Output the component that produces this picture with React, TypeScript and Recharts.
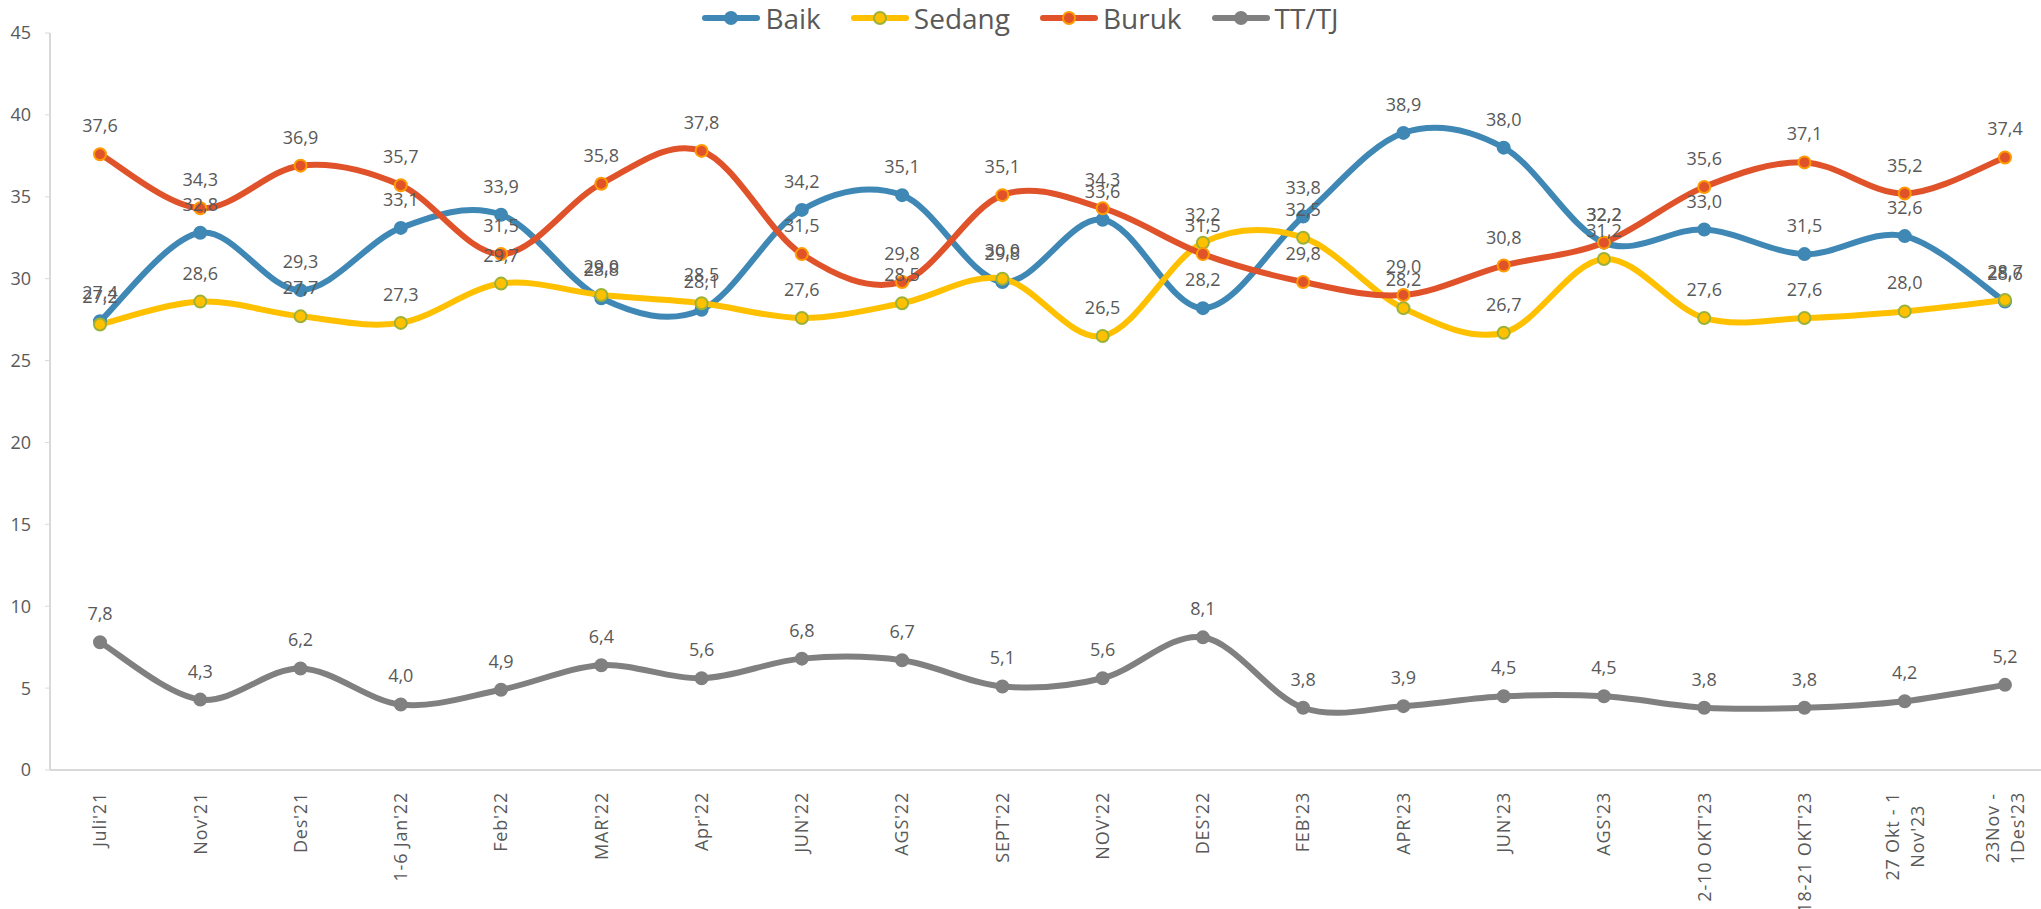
import React from 'react';
import { LineChart, Line, XAxis, YAxis, Legend, LabelList } from 'recharts';

const categories = [
  "Juli'21", "Nov'21", "Des'21", "1-6 Jan'22", "Feb'22", "MAR'22", "Apr'22", "JUN'22", "AGS'22", "SEPT'22",
  "NOV'22", "DES'22", "FEB'23", "APR'23", "JUN'23", "AGS'23", "2-10 OKT'23", "18-21 OKT'23",
  "27 Okt - 1\nNov'23", "23Nov -\n1Des'23",
];
const baik = [27.4, 32.8, 29.3, 33.1, 33.9, 28.8, 28.1, 34.2, 35.1, 29.8, 33.6, 28.2, 33.8, 38.9, 38.0, 32.2, 33.0, 31.5, 32.6, 28.6];
const sedang = [27.2, 28.6, 27.7, 27.3, 29.7, 29.0, 28.5, 27.6, 28.5, 30.0, 26.5, 32.2, 32.5, 28.2, 26.7, 31.2, 27.6, 27.6, 28.0, 28.7];
const buruk = [37.6, 34.3, 36.9, 35.7, 31.5, 35.8, 37.8, 31.5, 29.8, 35.1, 34.3, 31.5, 29.8, 29.0, 30.8, 32.2, 35.6, 37.1, 35.2, 37.4];
const ttTj = [7.8, 4.3, 6.2, 4.0, 4.9, 6.4, 5.6, 6.8, 6.7, 5.1, 5.6, 8.1, 3.8, 3.9, 4.5, 4.5, 3.8, 3.8, 4.2, 5.2];
const yTicks = [0, 5, 10, 15, 20, 25, 30, 35, 40, 45];

const data = categories.map((name, i) => ({
  name,
  baik: baik[i],
  sedang: sedang[i],
  buruk: buruk[i],
  tt: ttTj[i],
}));

const FONT = '"Open Sans", sans-serif';
const TEXT = '#595959';
const SPACING = 0.8;

const series = [
  { key: 'baik', name: 'Baik', color: '#3F88B5', ring: '#3F88B5' },
  { key: 'sedang', name: 'Sedang', color: '#FFC000', ring: '#9BB23A' },
  { key: 'buruk', name: 'Buruk', color: '#E0532A', ring: '#FF9A00' },
  { key: 'tt', name: 'TT/TJ', color: '#808080', ring: '#808080' },
];

// smoothed line like Excel's (catmull-rom style bezier)
const smoothCurve = (context: any) => {
  let pts: number[][] = [];
  return {
    areaStart() {},
    areaEnd() {},
    lineStart() { pts = []; },
    point(x: number, y: number) { pts.push([x, y]); },
    lineEnd() {
      if (!pts.length) return;
      context.moveTo(pts[0][0], pts[0][1]);
      const t = 1 / 6;
      for (let i = 0; i < pts.length - 1; i++) {
        const p0 = pts[i - 1] || pts[i];
        const p1 = pts[i];
        const p2 = pts[i + 1];
        const p3 = pts[i + 2] || p2;
        context.bezierCurveTo(
          p1[0] + (p2[0] - p0[0]) * t, p1[1] + (p2[1] - p0[1]) * t,
          p2[0] - (p3[0] - p1[0]) * t, p2[1] - (p3[1] - p1[1]) * t,
          p2[0], p2[1],
        );
      }
    },
  };
};

let ctx: CanvasRenderingContext2D | null = null;
const measure = (s: string) => {
  if (!ctx) ctx = document.createElement('canvas').getContext('2d');
  if (!ctx) return s.length * 10;
  ctx.font = `18px ${FONT}`;
  return ctx.measureText(s).width + s.length * SPACING;
};

const XTick = (props: any) => {
  const { x, y, payload } = props;
  const lines = String(payload.value).split('\n');
  if (lines.length === 1) {
    return (
      <g transform={`translate(${x},${y + 14})`}>
        <text transform="rotate(-90)" textAnchor="end" dy="0.35em" fill={TEXT} fontSize={18} fontFamily={FONT} letterSpacing={SPACING}>
          {lines[0]}
        </text>
      </g>
    );
  }
  const w = Math.max(...lines.map(measure));
  const lh = 25;
  return (
    <g transform={`translate(${x},${y + 14 + w / 2})`}>
      <text transform="rotate(-90)" textAnchor="middle" fill={TEXT} fontSize={18} fontFamily={FONT} letterSpacing={SPACING}>
        {lines.map((l, i) => (
          <tspan key={i} x={0} y={(i - (lines.length - 1) / 2) * lh} dy="0.35em">{l}</tspan>
        ))}
      </text>
    </g>
  );
};

const LegendContent = () => (
  <div style={{ display: 'flex', justifyContent: 'center', gap: 30, fontFamily: FONT, fontSize: 28, color: TEXT, lineHeight: '36px' }}>
    {series.map((s) => (
      <div key={s.key} style={{ display: 'flex', alignItems: 'center' }}>
        <svg width={58} height={20} style={{ marginRight: 5 }}>
          <line x1={3} y1={10} x2={55} y2={10} stroke={s.color} strokeWidth={6} strokeLinecap="round" />
          <circle cx={29} cy={10} r={6} fill={s.color} stroke={s.ring} strokeWidth={2} />
        </svg>
        <span>{s.name}</span>
      </div>
    ))}
  </div>
);

const fmt = (v: any) => Number(v).toFixed(1).replace('.', ',');

export default function App() {
  return (
    <div style={{ position: 'absolute', left: 0, top: 0, width: 2041, height: 909, background: '#fff' }}>
      <LineChart width={2041} height={909} data={data} margin={{ top: 33, right: 0, bottom: 0, left: 0 }}>
        <XAxis
          dataKey="name"
          scale="point"
          padding={{ left: 50, right: 36 }}
          interval={0}
          height={139}
          tickLine={false}
          axisLine={{ stroke: '#D9D9D9', strokeWidth: 2 }}
          tick={<XTick />}
        />
        <YAxis
          domain={[0, 45]}
          ticks={yTicks}
          width={50}
          tickSize={5}
          tickMargin={14}
          tickLine={{ stroke: '#D9D9D9' }}
          axisLine={{ stroke: '#D9D9D9', strokeWidth: 2 }}
          tick={{ fill: TEXT, fontSize: 18, fontFamily: FONT }}
          interval={0}
        />
        <Legend verticalAlign="middle" wrapperStyle={{ top: 0, left: 0, width: 2041 }} content={<LegendContent />} />
        {series.map((s) => (
          <Line
            key={s.key}
            dataKey={s.key}
            name={s.name}
            type={smoothCurve as any}
            stroke={s.color}
            strokeWidth={6}
            dot={{ r: 6, fill: s.color, stroke: s.ring, strokeWidth: 2 }}
            activeDot={false}
            isAnimationActive={false}
          >
            <LabelList dataKey={s.key} position="top" offset={22} formatter={fmt} fill={TEXT} fontSize={18} fontFamily={FONT} />
          </Line>
        ))}
      </LineChart>
    </div>
  );
}
